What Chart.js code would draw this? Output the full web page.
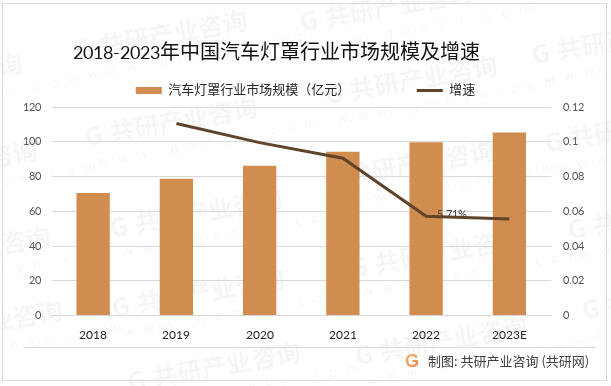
<!DOCTYPE html>
<html>
<head>
<meta charset="utf-8">
<style>
  @font-face { font-family: 'NumFont'; src: local('Lato'), local('Lato Regular'); size-adjust: 87.5%; }
  html, body { margin: 0; padding: 0; background: #fff; }
  #wrap { width: 611px; height: 386px; }
</style>
<script src="https://cdn.jsdelivr.net/npm/chart.js@4/dist/chart.umd.min.js"></script>
</head>
<body>
<div id="wrap"><canvas id="chart" width="611" height="386"></canvas></div>
<script>
const categories = ['2018', '2019', '2020', '2021', '2022', '2023E'];
const marketSize = [70.5, 78.7, 86.2, 94.3, 99.7, 105.3];
const growth = [null, 0.1105, 0.0995, 0.0905, 0.0571, 0.0555];
const growthLabels = ['', '', '', '', '5.71%', ''];
const titleText = '2018-2023年中国汽车灯罩行业市场规模及增速';
const sizeName = '汽车灯罩行业市场规模（亿元）';
const growthName = '增速';
const footerText = '制图: 共研产业咨询 (共研网)';

// watermark stamps, x/y of the left end of each one
const stamps = [
  [75, 50], [85, 137], [110, 228], [112, 308], [128, 382],
  [-150, 93], [-135, 180], [-122, 266], [-110, 340],
  [300, 22], [325, 95], [322, 180], [350, 268], [355, 356],
  [532, 55], [545, 143], [568, 230], [582, 310]
];

const FONT = 'NumFont, "Noto Sans CJK SC", sans-serif';

const backdrop = {
  id: 'backdrop',
  // title sits left of centre in the original
  afterLayout(chart) {
    chart.titleBlock.left -= 29;
    chart.titleBlock.right -= 29;
  },
  beforeDraw(chart) {
    const ctx = chart.ctx;
    ctx.save();
    ctx.textBaseline = 'middle';
    stamps.forEach(([x, y]) => {
      ctx.save();
      ctx.translate(x, y);
      ctx.rotate(-10 * Math.PI / 180);
      ctx.fillStyle = 'rgba(0,0,0,0.038)';
      ctx.font = 'bold 25px "Noto Sans CJK SC"';
      ctx.fillText('G', 0, 0);
      ctx.fillText('共研产业咨询', 25, 0);
      ctx.letterSpacing = '10px';
      ctx.font = '13px "Noto Sans"';
      ctx.fillStyle = 'rgba(0,0,0,0.04)';
      ctx.fillText('www.gonyn.com', 8, 27);
      ctx.restore();
    });
    ctx.restore();
  },
  afterDraw(chart) {
    const ctx = chart.ctx;
    ctx.save();
    ctx.strokeStyle = '#d9d9d9';
    ctx.lineWidth = 1;
    ctx.strokeRect(2.5, 3.5, 604, 377);
    ctx.beginPath();
    ctx.moveTo(24, 347.5);
    ctx.lineTo(596, 347.5);
    ctx.stroke();
    // logo
    const g = ctx.createLinearGradient(405, 355, 420, 369);
    g.addColorStop(0, '#f6b26b');
    g.addColorStop(1, '#ee7b4a');
    ctx.fillStyle = g;
    ctx.font = 'bold 18px "Liberation Sans"';
    ctx.textBaseline = 'middle';
    ctx.fillText('G', 405, 362);
    ctx.fillStyle = '#404040';
    ctx.font = '13px "Noto Sans CJK SC"';
    ctx.fillText(footerText, 428, 361);
    ctx.restore();
  },
  beforeDatasetDraw(chart, args) {
    if (args.index !== 1) return;
    const ctx = chart.ctx;
    const pts = chart.getDatasetMeta(1).data;
    ctx.save();
    ctx.fillStyle = '#404040';
    ctx.font = '12px ' + FONT;
    ctx.textAlign = 'center';
    ctx.textBaseline = 'middle';
    growthLabels.forEach((t, i) => {
      if (t) ctx.fillText(t, pts[i].x + 26, pts[i].y - 2);
    });
    ctx.restore();
  }
};

(async function () {
  await document.fonts.load('12px NumFont', '0123');

  new Chart(document.getElementById('chart'), {
    type: 'bar',
    plugins: [backdrop],
    data: {
      labels: categories,
      datasets: [
        {
          type: 'bar',
          label: sizeName,
          data: marketSize,
          backgroundColor: '#d18c4f',
          categoryPercentage: 1,
          barPercentage: 0.4,
          yAxisID: 'y',
          order: 1
        },
        {
          type: 'line',
          label: growthName,
          data: growth,
          borderColor: '#5f432b',
          backgroundColor: '#5f432b',
          borderWidth: 3,
          pointRadius: 0,
          tension: 0,
          yAxisID: 'y1',
          order: 0
        }
      ]
    },
    options: {
      responsive: false,
      animation: false,
      plugins: {
        tooltip: { enabled: false },
        title: {
          display: true,
          text: titleText,
          color: '#111',
          font: { family: FONT, size: 20, weight: 'normal' },
          padding: { top: 41, bottom: 11 }
        },
        legend: {
          display: true,
          labels: {
            usePointStyle: true,
            pointStyleWidth: 26,
            boxHeight: 7,
            padding: 8,
            color: '#262626',
            font: { family: FONT, size: 13 },
            generateLabels(chart) {
              return chart.data.datasets.map((d, i) => ({
                // wide blanks keep the two entries apart without growing the box height
                text: i === 0 ? d.label + '\u3000'.repeat(5) : d.label,
                datasetIndex: i,
                fillStyle: d.backgroundColor,
                strokeStyle: d.backgroundColor,
                lineWidth: i === 1 ? 3 : 0,
                pointStyle: i === 1 ? 'line' : 'rect',
                fontColor: '#262626'
              }));
            }
          }
        }
      },
      scales: {
        x: {
          grid: { display: false },
          border: { color: '#d9d9d9' },
          ticks: { color: '#262626', padding: 3, maxRotation: 0, font: { family: FONT, size: 14 } },
          afterFit(s) { s.height = 70.5; }
        },
        y: {
          min: 0,
          max: 120,
          grid: { color: '#d9d9d9', drawTicks: false },
          border: { display: false },
          ticks: { stepSize: 20, color: '#595959', padding: 11, font: { family: FONT, size: 13 } },
          afterFit(s) { s.width = 51.5; }
        },
        y1: {
          position: 'right',
          min: 0,
          max: 0.12,
          grid: { display: false, drawTicks: false },
          border: { display: false },
          ticks: {
            stepSize: 0.02,
            color: '#595959',
            padding: 12,
            font: { family: FONT, size: 13 },
            callback: v => String(+v.toFixed(2))
          },
          afterFit(s) { s.width = 60; }
        }
      }
    }
  });
})();
</script>
</body>
</html>
